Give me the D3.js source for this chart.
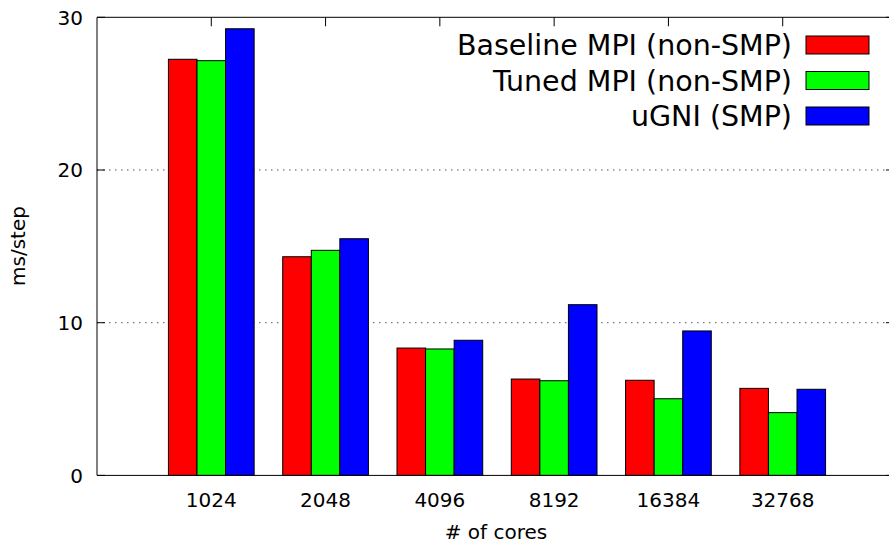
<!DOCTYPE html>
<html><head><meta charset="utf-8">
<script src="https://cdn.jsdelivr.net/npm/d3@7"></script>
<style>body{margin:0;background:#fff} svg{display:block} text{font-family:"DejaVu Sans",sans-serif;fill:#000}</style>
</head><body><svg id="c" width="889" height="544"></svg>
<script>
const categories = ["1024","2048","4096","8192","16384","32768"];
const seriesNames = ["Baseline MPI (non-SMP)","Tuned MPI (non-SMP)","uGNI (SMP)"];
const seriesColors = ["#ff0000","#00ff00","#0000ff"];
const baselineMPI = [27.25, 14.32, 8.34, 6.31, 6.23, 5.70];
const tunedMPI    = [27.16, 14.74, 8.28, 6.20, 5.02, 4.11];
const uGNI        = [29.25, 15.50, 8.85, 11.18, 9.46, 5.64];
const yTicks = [0, 10, 20, 30];
const yLabel = "ms/step";
const xLabel = "# of cores";

const seriesValues = [baselineMPI, tunedMPI, uGNI];
const svg = d3.select("#c");
const L = 97, R = 897, T = 17.3, B = 475.4;

const x = d3.scaleBand().domain(categories).range([L, R]).paddingInner(0).paddingOuter(0.5);
const xs = d3.scaleBand().domain(seriesNames).range([-x.step()*0.375, x.step()*0.375]);
const y = d3.scaleLinear().domain([0, 30]).range([B, T]);

// grid
svg.append("g").selectAll("line").data(yTicks.filter(t => t > 0 && t < 30)).join("line")
  .attr("x1", L).attr("x2", R).attr("y1", d => y(d)).attr("y2", d => y(d))
  .attr("stroke", "#555").attr("stroke-width", 1).attr("stroke-dasharray", "1.5,4.5");

// bars
const rows = [];
categories.forEach((c, i) => seriesNames.forEach((s, j) => rows.push({c, s, j, v: seriesValues[j][i]})));
svg.append("g").selectAll("rect").data(rows).join("rect")
  .attr("x", d => x(d.c) + x.bandwidth()/2 + xs(d.s))
  .attr("width", xs.bandwidth())
  .attr("y", d => y(d.v))
  .attr("height", d => y(0) - y(d.v))
  .attr("fill", d => seriesColors[d.j])
  .attr("stroke", "#000").attr("stroke-width", 1);

// border
const ax = svg.append("g").attr("stroke", "#000").attr("stroke-width", 1).attr("fill", "none");
ax.append("line").attr("x1", L).attr("x2", L).attr("y1", T).attr("y2", B);
ax.append("line").attr("x1", L).attr("x2", R).attr("y1", B).attr("y2", B);
ax.append("line").attr("x1", L).attr("x2", R).attr("y1", T).attr("y2", T);
ax.append("line").attr("x1", R).attr("x2", R).attr("y1", T).attr("y2", B);

// y ticks (left and right, inward)
ax.selectAll(".yt").data(yTicks).join("line").attr("class", "yt")
  .attr("x1", L).attr("x2", L + 8).attr("y1", d => y(d)).attr("y2", d => y(d));
ax.selectAll(".yr").data(yTicks).join("line").attr("class", "yr")
  .attr("x1", R - 11).attr("x2", R).attr("y1", d => y(d)).attr("y2", d => y(d));
// top mirror x ticks
ax.selectAll(".xt").data(categories).join("line").attr("class", "xt")
  .attr("x1", d => x(d) + x.bandwidth()/2).attr("x2", d => x(d) + x.bandwidth()/2)
  .attr("y1", T).attr("y2", T + 9);

// y tick labels
svg.append("g").selectAll("text").data(yTicks).join("text")
  .attr("x", 83).attr("y", d => y(d)).attr("dy", "0.36em")
  .attr("text-anchor", "end").attr("font-size", 20).text(d => d);

// x tick labels
svg.append("g").selectAll("text").data(categories).join("text")
  .attr("x", d => x(d) + x.bandwidth()/2).attr("y", 507)
  .attr("text-anchor", "middle").attr("font-size", 20).text(d => d);

// axis titles
svg.append("text").attr("x", 496).attr("y", 539).attr("text-anchor", "middle")
  .attr("font-size", 20).text(xLabel);
svg.append("text").attr("transform", "translate(25,246) rotate(-90)")
  .attr("text-anchor", "middle").attr("font-size", 20).text(yLabel);

// legend
const lg = svg.append("g");
seriesNames.forEach((s, j) => {
  const by = 55 + j * 35.5;
  lg.append("text").attr("x", 792).attr("y", by).attr("text-anchor", "end")
    .attr("font-size", 28.5).text(s);
  lg.append("rect").attr("x", 806).attr("y", by - 19).attr("width", 63).attr("height", 18)
    .attr("fill", seriesColors[j]).attr("stroke", "#000").attr("stroke-width", 1);
});
</script></body></html>
